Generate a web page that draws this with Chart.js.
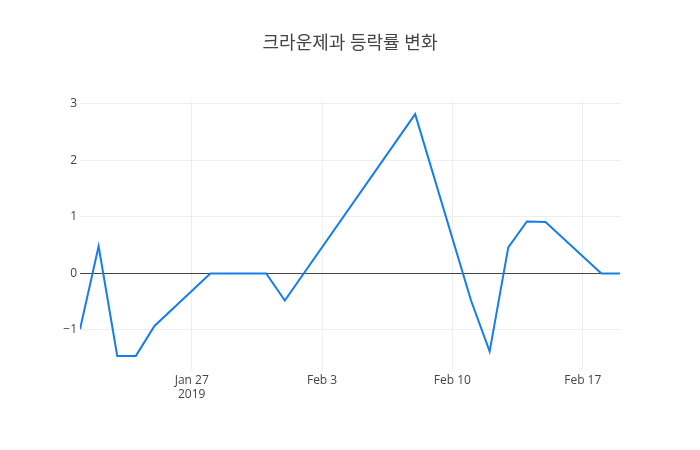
<!DOCTYPE html>
<html>
<head>
<meta charset="utf-8">
<script src="https://cdn.jsdelivr.net/npm/chart.js@4"></script>
<style>
  html, body { margin: 0; padding: 0; background: #fff; }
  #wrap { width: 700px; height: 450px; }
</style>
</head>
<body>
<div id="wrap"><canvas id="chartRate"></canvas></div>
<script>
// 데이터
var dates = ['2019-01-21', '2019-01-22', '2019-01-23', '2019-01-24', '2019-01-25',
             '2019-01-28', '2019-01-31', '2019-02-01', '2019-02-08', '2019-02-11',
             '2019-02-12', '2019-02-13', '2019-02-14', '2019-02-15', '2019-02-18',
             '2019-02-19'];
var rates = [-0.99, 0.48, -1.46, -1.46, -0.93,
             0, 0, -0.48, 2.82, -0.48,
             -1.38, 0.46, 0.92, 0.91, 0,
             0];
var xTickDates = ['2019-01-27', '2019-02-03', '2019-02-10', '2019-02-17'];
var xTickLabels = [['Jan 27', '2019'], 'Feb 3', 'Feb 10', 'Feb 17'];
var yTicks = [-1, 0, 1, 2, 3];

// 날짜 -> 일 수
function toDay(s) {
    var p = s.split('-');
    return Date.UTC(+p[0], +p[1] - 1, +p[2]) / 86400000;
}
var xTickDays = xTickDates.map(toDay);

var points = dates.map(function (d, i) { return { x: toDay(d), y: rates[i] }; });

var fontFam = "'Open Sans', 'Noto Sans CJK KR', sans-serif";
var ctx = document.getElementById('chartRate').getContext('2d');

var myChart = new Chart(ctx, {
    type: 'line',
    data: {
        datasets: [{
            data: points,
            borderColor: 'rgb(22, 126, 234)',
            borderWidth: 2,
            pointRadius: 0,
            tension: 0,
            fill: false
        }]
    },
    options: {
        responsive: true,
        maintainAspectRatio: false,
        animation: false,
        layout: { padding: 0 },
        plugins: {
            legend: { display: false },
            tooltip: { enabled: false },
            title: {
                display: true,
                text: '크라운제과 등락률 변화',
                color: '#444',
                font: { family: fontFam, size: 18, weight: 'normal' },
                padding: { top: 33.5, bottom: 46 }
            }
        },
        scales: {
            x: {
                type: 'linear',
                min: toDay(dates[0]),
                max: toDay(dates[dates.length - 1]),
                afterBuildTicks: function (scale) {
                    scale.ticks = xTickDays.map(function (v) { return { value: v }; });
                },
                afterFit: function (scale) { scale.height = 80; },
                ticks: {
                    autoSkip: false,
                    maxRotation: 0,
                    padding: 3,
                    color: '#444',
                    font: { family: fontFam, size: 12 },
                    callback: function (v) {
                        var i = xTickDays.indexOf(v);
                        return i >= 0 ? xTickLabels[i] : '';
                    }
                },
                grid: { color: '#eee', drawTicks: false },
                border: { display: false }
            },
            y: {
                min: -1.71,
                max: 3.05,
                afterBuildTicks: function (scale) {
                    scale.ticks = yTicks.map(function (v) { return { value: v }; });
                },
                afterFit: function (scale) { scale.width = 80; },
                ticks: {
                    padding: 3,
                    color: '#444',
                    font: { family: fontFam, size: 12 },
                    callback: function (v) { return v < 0 ? '\u2212' + Math.abs(v) : String(v); }
                },
                grid: {
                    drawTicks: false,
                    color: function (c) { return c.tick && c.tick.value === 0 ? '#444' : '#eee'; },
                    lineWidth: 1
                },
                border: { display: false }
            },
            // 오른쪽 여백용 빈 축
            yRight: {
                position: 'right',
                min: -1.71,
                max: 3.05,
                afterFit: function (scale) { scale.width = 80; },
                ticks: { display: false },
                grid: { display: false, drawTicks: false },
                border: { display: false }
            }
        }
    }
});
</script>
</body>
</html>
